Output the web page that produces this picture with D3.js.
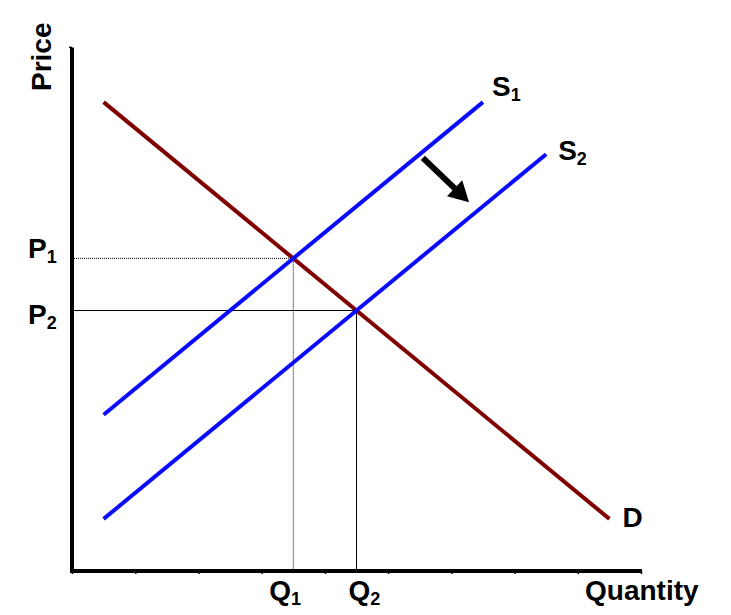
<!DOCTYPE html>
<html>
<head>
<meta charset="utf-8">
<script src="https://cdn.jsdelivr.net/npm/d3@7"></script>
<style>
  html, body { margin: 0; padding: 0; background: #fff; }
  svg text { font-family: "Liberation Sans", Arial, sans-serif; font-weight: bold; fill: #000; }
</style>
</head>
<body>
<svg id="chart" width="731" height="615"></svg>
<script>
// ---- data (quantity units along x, price units along y) ----
const demandD = [[0.5, 9], [8.5, 1]];
const supplyS1 = [[0.5, 3], [6.5, 9]];
const supplyS2 = [[0.5, 1], [7.5, 8]];
const equilibrium1 = [3.5, 6];   // Q1, P1
const equilibrium2 = [4.5, 5];   // Q2, P2
const shiftArrow = [[5.55, 7.93], [6.28, 7.08]];
const xTicks = [0, 1, 2, 3, 4, 5, 6, 7, 8, 9];
const axisLabels = { x: "Quantity", y: "Price" };

const svg = d3.select("#chart");
const x = d3.scaleLinear().domain([0, 9]).range([72, 641]);
const y = d3.scaleLinear().domain([0, 10]).range([571, 50]);
const line = d3.line().x(d => x(d[0])).y(d => y(d[1]));

// axis ticks (tiny, below x axis)
const xAxis = d3.axisBottom(x).tickValues(xTicks).tickSize(3).tickFormat("");
const gx = svg.append("g").attr("transform", `translate(0,${y(0)})`).call(xAxis);
gx.select(".domain").remove();
gx.selectAll(".tick line").attr("stroke", "#000").attr("stroke-width", 1.5);

// small top tick on y axis
svg.append("line").attr("x1", x(0) - 3).attr("x2", x(0)).attr("y1", y(10.05)).attr("y2", y(10.05))
  .attr("stroke", "#000").attr("stroke-width", 1.5);

// reference lines
svg.append("line").attr("x1", x(0)).attr("x2", x(equilibrium1[0]))
  .attr("y1", y(equilibrium1[1])).attr("y2", y(equilibrium1[1]))
  .attr("stroke", "#000").attr("stroke-width", 1).attr("stroke-dasharray", "1,1");
svg.append("line").attr("x1", x(equilibrium1[0])).attr("x2", x(equilibrium1[0]))
  .attr("y1", y(equilibrium1[1])).attr("y2", y(0))
  .attr("stroke", "#000").attr("stroke-width", 1).attr("stroke-dasharray", "1,1");
svg.append("line").attr("x1", x(0)).attr("x2", x(equilibrium2[0]))
  .attr("y1", y(equilibrium2[1])).attr("y2", y(equilibrium2[1]))
  .attr("stroke", "#000").attr("stroke-width", 1);
svg.append("line").attr("x1", x(equilibrium2[0])).attr("x2", x(equilibrium2[0]))
  .attr("y1", y(equilibrium2[1])).attr("y2", y(0))
  .attr("stroke", "#000").attr("stroke-width", 1);

// curves
svg.append("path").attr("d", line(demandD)).attr("fill", "none").attr("stroke", "#800000").attr("stroke-width", 4);
svg.append("path").attr("d", line(supplyS1)).attr("fill", "none").attr("stroke", "#0a0aff").attr("stroke-width", 4);
svg.append("path").attr("d", line(supplyS2)).attr("fill", "none").attr("stroke", "#0a0aff").attr("stroke-width", 4);

// axes lines
svg.append("line").attr("x1", x(0)).attr("x2", x(0)).attr("y1", y(10.05)).attr("y2", y(0) + 2)
  .attr("stroke", "#000").attr("stroke-width", 4);
svg.append("line").attr("x1", x(0) - 2).attr("x2", x(9) + 1).attr("y1", y(0)).attr("y2", y(0))
  .attr("stroke", "#000").attr("stroke-width", 4);

// shift arrow
(function () {
  const [a, b] = shiftArrow;
  const x0 = x(a[0]), y0 = y(a[1]), x1 = x(b[0]), y1 = y(b[1]);
  const dx = x1 - x0, dy = y1 - y0, L = Math.hypot(dx, dy);
  const ux = dx / L, uy = dy / L, px = -uy, py = ux;
  const headLen = 20, headHalf = 11;
  const bx = x1 - ux * headLen, by = y1 - uy * headLen;
  svg.append("line").attr("x1", x0).attr("y1", y0).attr("x2", bx + ux * 2).attr("y2", by + uy * 2)
    .attr("stroke", "#000").attr("stroke-width", 6);
  svg.append("path")
    .attr("d", `M${x1},${y1}L${bx + px * headHalf},${by + py * headHalf}L${bx - px * headHalf},${by - py * headHalf}Z`)
    .attr("fill", "#000");
})();

// labels with subscripts
function subLabel(px, py, main, sub, anchor) {
  const t = svg.append("text").attr("x", px).attr("y", py).attr("font-size", 28)
    .attr("text-anchor", anchor || "start");
  t.append("tspan").text(main);
  t.append("tspan").attr("font-size", 18).attr("dy", 5).text(sub);
  return t;
}
subLabel(x(supplyS1[1][0]) + 9, y(supplyS1[1][1]) - 6, "S", "1");
subLabel(x(supplyS2[1][0]) + 12, y(supplyS2[1][1]) + 6, "S", "2");
svg.append("text").attr("x", x(demandD[1][0]) + 13).attr("y", y(demandD[1][1]) + 8)
  .attr("font-size", 28).text("D");
subLabel(28, y(equilibrium1[1]) + 0, "P", "1");
subLabel(28, y(equilibrium2[1]) + 13, "P", "2");
subLabel(x(equilibrium1[0]) - 24, 600, "Q", "1");
subLabel(x(equilibrium2[0]) - 8, 600, "Q", "2");
svg.append("text").attr("x", 585).attr("y", 600).attr("font-size", 28).text(axisLabels.x);
svg.append("text").attr("transform", "translate(51,91) rotate(-90)").attr("font-size", 28).text(axisLabels.y);
</script>
</body>
</html>
